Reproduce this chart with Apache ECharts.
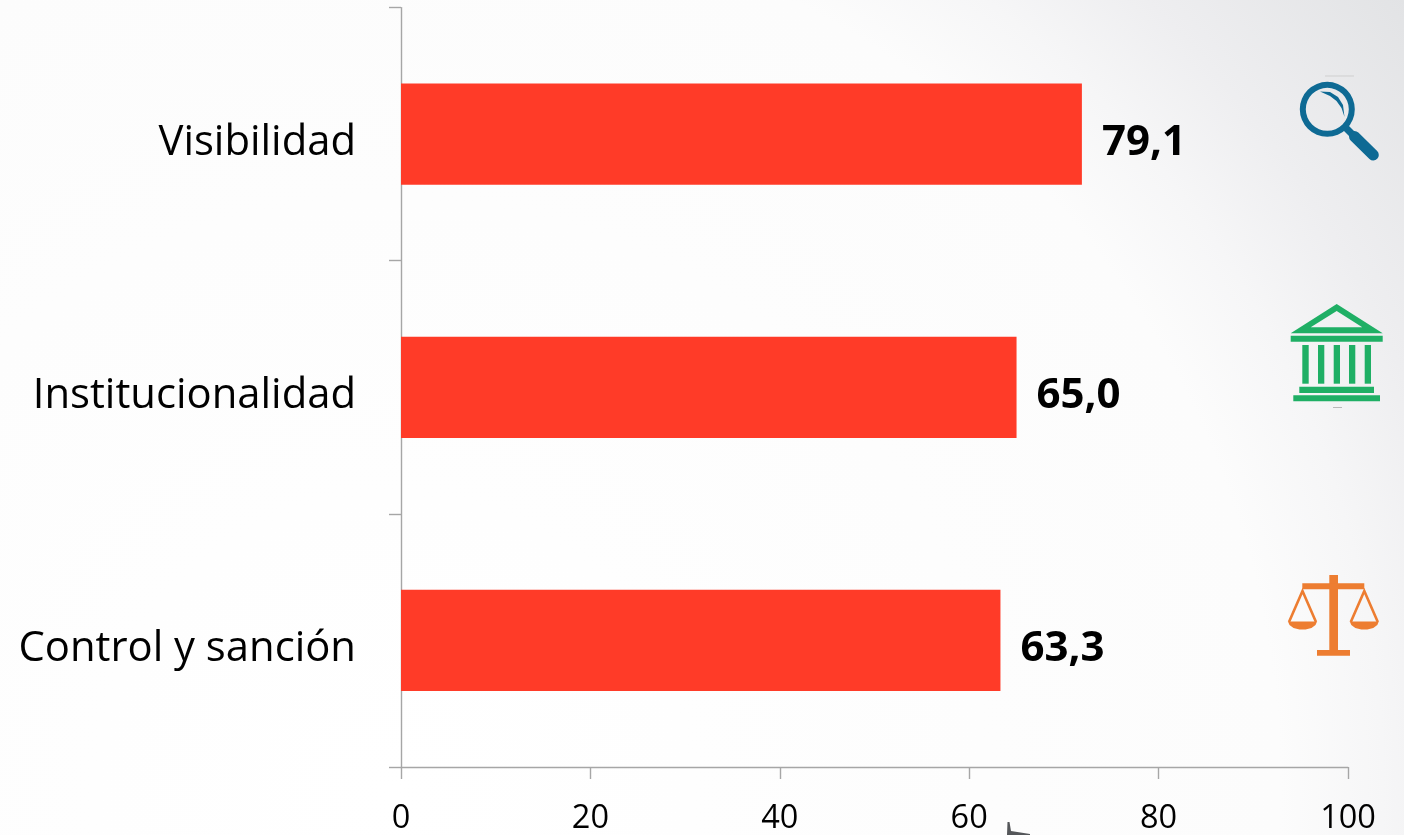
<!DOCTYPE html>
<html><head><meta charset="utf-8">
<style>html,body{margin:0;padding:0;width:1404px;height:835px;overflow:hidden;background:#fff}#c{width:1404px;height:835px}</style>
<script src="https://cdn.jsdelivr.net/npm/echarts@6/dist/echarts.min.js"></script>
</head><body><div id="c"></div>
<script>
const categories = ['Visibilidad', 'Institucionalidad', 'Control y sanción'];
const barLengths = [71.9, 65.0, 63.3];
const valueLabels = ['79,1', '65,0', '63,3'];
const xTicks = [0, 20, 40, 60, 80, 100];

const FONT = '"Open Sans", sans-serif';
const BLUE = '#0E6A94', GREEN = '#1FAF65', ORANGE = '#ED7D31';
const rect = (x0, y0, x1, y1, fill) => ({type: 'rect', shape: {x: x0, y: y0, width: x1 - x0, height: y1 - y0}, style: {fill}, silent: true});
const poly = (points, fill) => ({type: 'polygon', shape: {points}, style: {fill}, silent: true});
const line = (points, stroke, lineWidth, cap) => ({type: 'polyline', shape: {points}, style: {stroke, lineWidth, fill: 'none', lineCap: cap || 'butt', lineJoin: 'miter'}, silent: true});

function pan(cx) {
  return [
    line([[cx - 13.5, 622], [cx, 591], [cx + 13.5, 622]], ORANGE, 2.6),
    poly([[cx - 14.5, 621.5], [cx + 14.5, 621.5], [cx + 13, 625], [cx + 9, 628], [cx + 3, 629.5], [cx - 3, 629.5], [cx - 9, 628], [cx - 13, 625]], ORANGE)
  ];
}
const icons = [
  {type: 'ring', shape: {cx: 1327.3, cy: 109.3, r: 27.5, r0: 21.5}, style: {fill: BLUE}, silent: true},
  line([[1346, 128], [1354, 136]], BLUE, 7),
  line([[1354.5, 136.5], [1373.3, 155]], BLUE, 11, 'round'),
  poly([[1320, 91.5], [1330, 92], [1338, 97], [1343, 105], [1344.5, 117], [1341.5, 108], [1336.5, 101], [1330, 96]], BLUE),
  line([[1325, 76], [1354, 76]], '#CFCFCF', 1),
  poly([[1336.7, 304], [1382.7, 333.3], [1290.7, 333.3], [1336.7, 304], [1336.7, 311], [1310.7, 327.3], [1362.3, 327.3], [1336.7, 311]], GREEN),
  rect(1290.7, 335.7, 1382.7, 341.7, GREEN),
  rect(1302.3, 345, 1308.7, 383.7, GREEN),
  rect(1318, 345, 1324.3, 383.7, GREEN),
  rect(1333.7, 345, 1340, 383.7, GREEN),
  rect(1349, 345, 1355.3, 383.7, GREEN),
  rect(1364.7, 345, 1371, 383.7, GREEN),
  rect(1299.3, 386.7, 1374, 393, GREEN),
  rect(1293.3, 395.3, 1380, 401.3, GREEN),
  line([[1333, 407.5], [1342, 407.5]], '#B9B9B9', 1),
  rect(1329.3, 575, 1338, 650, ORANGE),
  rect(1317, 650, 1350, 655.7, ORANGE),
  rect(1302.3, 583.3, 1364.3, 589.3, ORANGE),
  ...pan(1302.5),
  ...pan(1364.3),
  poly([[1007.5, 822], [1009.5, 822], [1011, 831], [1030, 834], [1030, 835], [1007, 835]], '#55575A')
];

const chart = echarts.init(document.getElementById('c'), null, {renderer: 'canvas'});
chart.setOption({
  animation: false,
  backgroundColor: {
    type: 'radial', x: 0.28, y: 0.95, r: 1.54,
    colorStops: [
      {offset: 0, color: '#FFFFFF'},
      {offset: 0.69, color: '#FCFCFC'},
      {offset: 0.77, color: '#F6F6F7'},
      {offset: 0.85, color: '#EEEEF0'},
      {offset: 1, color: '#E2E3E5'}
    ]
  },
  grid: {left: 401, right: 56, top: 7.6, bottom: 68, containLabel: false},
  xAxis: {
    type: 'value', min: xTicks[0], max: xTicks[xTicks.length - 1], interval: 20,
    splitLine: {show: false},
    axisLine: {show: true, lineStyle: {color: '#A6A6A6', width: 1.4}},
    axisTick: {show: true, length: 12, lineStyle: {color: '#A6A6A6', width: 1.4}},
    axisLabel: {color: '#000', fontFamily: FONT, fontSize: 32.5, margin: 35, hideOverlap: false, showMinLabel: true, showMaxLabel: true}
  },
  yAxis: {
    type: 'category', inverse: true, data: categories,
    axisLine: {show: true, lineStyle: {color: '#A6A6A6', width: 1.4}},
    axisTick: {show: true, length: 12, alignWithLabel: false, lineStyle: {color: '#A6A6A6', width: 1.4}},
    axisLabel: {color: '#000', fontFamily: FONT, fontSize: 41.8, margin: 45, verticalAlign: 'top', lineHeight: 18}
  },
  series: [{
    type: 'bar', data: barLengths, barWidth: '40%',
    itemStyle: {color: '#FF3B28'},
    label: {
      show: true, position: 'right', distance: 20, color: '#000', fontFamily: FONT,
      fontWeight: 'bold', fontSize: 42, offset: [0, 9],
      formatter: p => valueLabels[p.dataIndex]
    }
  }],
  graphic: {elements: icons}
});
</script></body></html>
